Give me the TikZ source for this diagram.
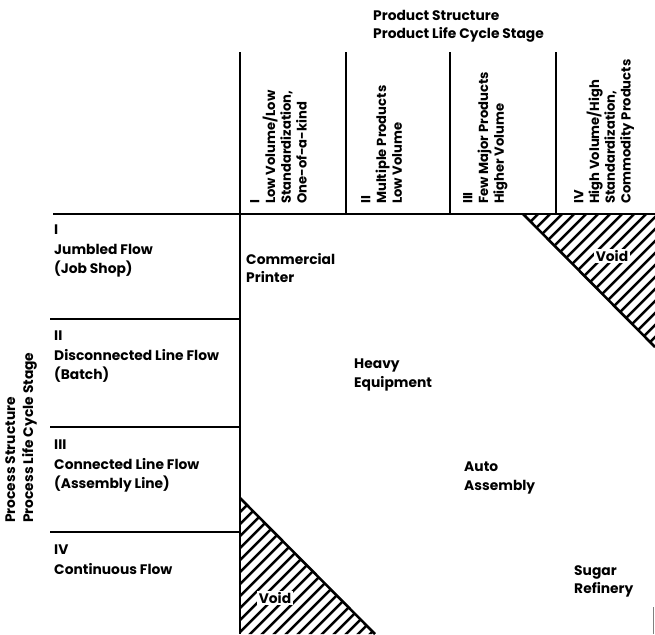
\documentclass[tikz,border=0pt]{standalone}
\usepackage{fontspec}
\setmainfont{Poppins}

\begin{document}
\begin{tikzpicture}[x=0.03cm,y=-0.03cm,
  gridline/.style={line width=2.2pt},
  thinline/.style={line width=1.6pt},
  hatchline/.style={line width=2.1pt},
  lab/.style={inner sep=0pt,align=left,anchor=north west,
    font=\bfseries\fontsize{11.8}{15.5}\selectfont},
  rowlab/.style={lab,font=\bfseries\fontsize{11.8}{16.6}\selectfont},
  collab/.style={lab,rotate=90,font=\bfseries\fontsize{11.2}{13.4}\selectfont},
  celllab/.style={lab,font=\bfseries\fontsize{11.8}{15.5}\selectfont},
  voidlab/.style={inner sep=1.5pt,fill=white,font=\bfseries\fontsize{11.8}{12}\selectfont}]
\useasboundingbox (0,0) rectangle (655,634);

% hatched void corners
\begin{scope}
  \clip (523,214) -- (655,214) -- (655,347) -- cycle
        (240,498) -- (240,634) -- (375,634) -- cycle;
  \foreach \c in {728,740,...,1016}
    \draw[hatchline] (200,\c-200) -- (700,\c-700);
\end{scope}
\draw[gridline] (523,214) -- (655,347);
\draw[gridline] (240,498) -- (375,634);
\node[voidlab] (voidtop) at (612,256) {Void};
\node[voidlab] (voidbot) at (275,598) {Void};

% matrix frame
\draw[gridline] (240,52) -- (240,634);
\draw[gridline] (53,214) -- (655,214);
\foreach \x in {346,450,556}
  \draw[gridline] (\x,52) -- (\x,214);
\foreach \y in {319,427,532}
  \draw[thinline] (50,\y) -- (240,\y);
\draw[line width=0.4pt,gray] (653,607) -- (653,634);

% headings
\node[lab] (prodhead) at (373,10) {Product Structure\\Product Life Cycle Stage};
\node[collab,font=\bfseries\fontsize{11.8}{15.4}\selectfont] (prochead) at (5,523)
  {Process Structure\\Process Life Cycle Stage};

% product columns
\node[collab] (colI) at (250,204) {I\\Low Volume/Low\\Standardization,\\One-of-a-kind};
\node[collab] (colII) at (361,204) {II\\Multiple Products\\Low Volume};
\node[collab] (colIII) at (463,204) {III\\Few Major Products\\Higher Volume};
\node[collab] (colIV) at (574,204) {IV\\High Volume/High\\Standardization,\\Commodity Products};

% process rows
\node[rowlab] (rowI) at (54,225) {I\\Jumbled Flow\\(Job Shop)};
\node[rowlab] (rowII) at (54,331) {II\\Disconnected Line Flow\\(Batch)};
\node[rowlab] (rowIII) at (54,440) {III\\Connected Line Flow\\(Assembly Line)};
\node[rowlab] (rowIV) at (54,545) {IV\\Continuous Flow};

% examples on the diagonal
\node[celllab] (printer) at (246,253) {Commercial\\Printer};
\node[celllab] (heavy) at (354,359) {Heavy\\Equipment};
\node[celllab] (auto) at (464,462) {Auto\\Assembly};
\node[celllab] (sugar) at (574,565) {Sugar\\Refinery};
\end{tikzpicture}
\end{document}
